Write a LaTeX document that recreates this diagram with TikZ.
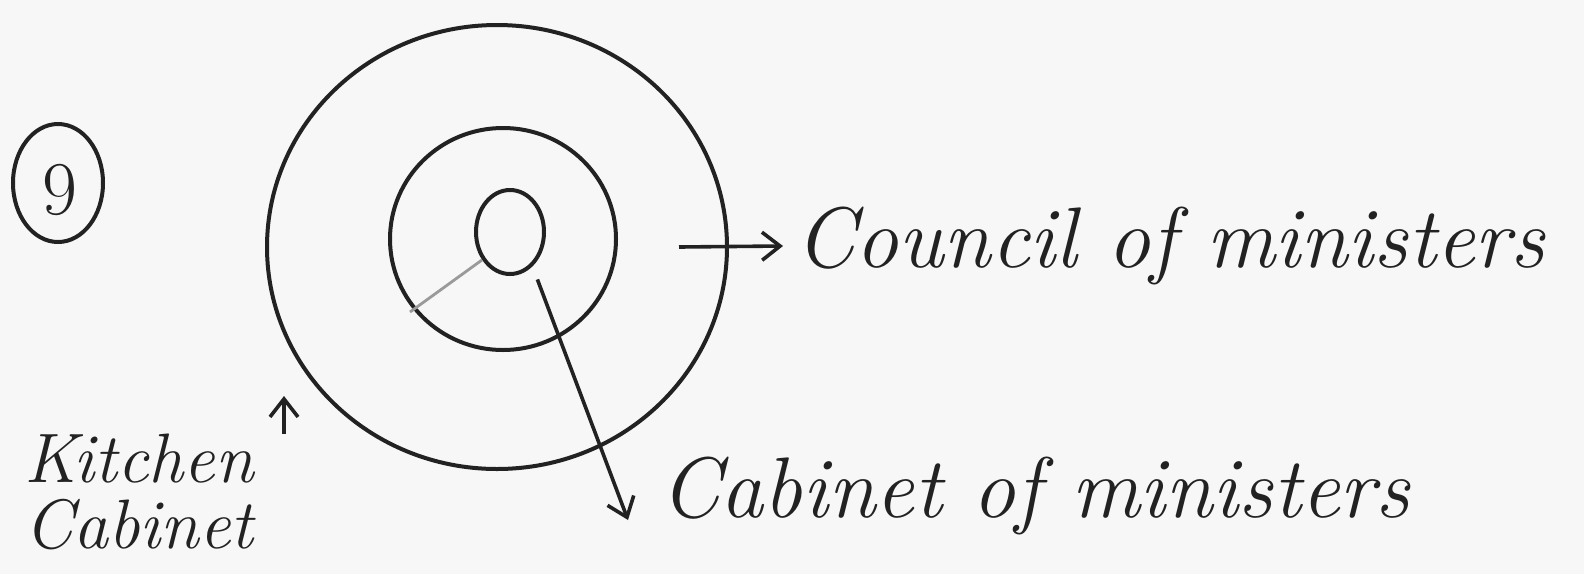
\documentclass[tikz,border=0pt]{standalone}
\usetikzlibrary{shapes.geometric,arrows.meta}
\definecolor{bg}{HTML}{F7F7F7}
\definecolor{ink}{HTML}{222222}
\definecolor{faint}{HTML}{9A9A9A}
\begin{document}
\begin{tikzpicture}[x=0.5pt,y=-0.5pt,
  ring/.style={draw=ink,line width=2pt,ellipse,inner sep=0pt},
  lbl/.style={text=ink,font=\fontsize{43}{48}\selectfont\itshape,inner sep=0pt},
  arr/.style={draw=ink,line width=1.8pt,-{Straight Barb[length=9pt,width=14pt,line width=1.8pt]}}]
\fill[bg] (0,0) rectangle (1584,574);
\useasboundingbox (0,0) rectangle (1584,574);
% circled number
\node[ring,minimum width=45pt,minimum height=59pt] (num) at (58,183) {};
\node[lbl,font=\fontsize{38}{42}\selectfont] (numtxt) at (60,190) {9};
% concentric rings
\node[ring,minimum width=230pt,minimum height=222pt] (outer) at (497,247) {};
\node[ring,minimum width=113pt,minimum height=111pt] (middle) at (503,239) {};
\node[ring,minimum width=34pt,minimum height=42pt] (inner) at (510,232) {};
% labels
\node[lbl,anchor=west] (council) at (795,246) {Council of ministers};
\node[lbl,anchor=west] (cabinet) at (660,496) {Cabinet of ministers};
\node[lbl,font=\fontsize{35}{33}\selectfont\itshape,align=left,anchor=north west] (kitchen) at (24,434) {Kitchen\\Cabinet};
% connectors
\coordinate (kend) at (410,312);
\coordinate (ktip) at (284,396);
\draw[faint,line width=1.4pt] (inner.225) -- (kend);
\draw[arr] ([xshift=-25pt]outer.east) -- ([xshift=-6pt]council.west);
\draw[arr] (inner.-55) ++(4,14) -- ([xshift=-16pt,yshift=-12pt]cabinet.west);
\draw[arr] (kitchen.north -| ktip) -- (ktip);
\end{tikzpicture}
\end{document}
